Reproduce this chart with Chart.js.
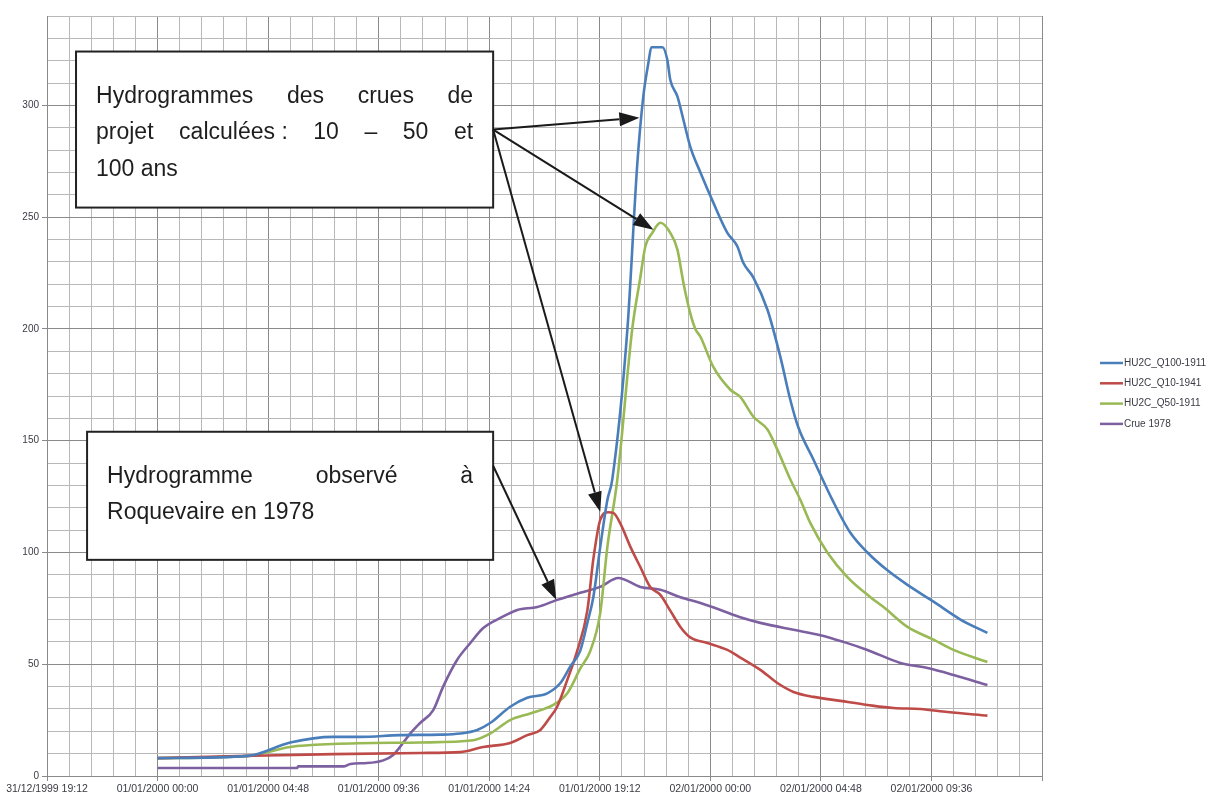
<!DOCTYPE html>
<html lang="fr">
<head>
  <meta charset="UTF-8">
  <title>Hydrogrammes Roquevaire</title>
  <script src="https://cdn.jsdelivr.net/npm/chart.js"></script>
  <style>
    body {
      margin: 0;
      background: #fff;
    }
    canvas { display: block; }
  </style>
</head>
<body>
  <canvas id="hydroChart" width="1210" height="798"></canvas>

  <script>
    // x = hours since 31/12/1999 19:12
    const xTickLabels = ['31/12/1999 19:12', '01/01/2000 00:00', '01/01/2000 04:48', '01/01/2000 09:36',
      '01/01/2000 14:24', '01/01/2000 19:12', '02/01/2000 00:00', '02/01/2000 04:48', '02/01/2000 09:36'];

    const seriesNames = ['HU2C_Q100-1911', 'HU2C_Q10-1941', 'HU2C_Q50-1911', 'Crue 1978'];

    const q100Hours = [4.8, 8.73, 10.56, 12.42, 13.6, 15.33, 17.07, 17.94, 18.68, 19.24, 20.11, 20.85, 21.72, 22.29,
      22.72, 23.15, 23.46, 23.72, 24.02, 24.33, 24.54, 25.2, 25.63, 25.89, 26.11, 26.24, 26.72, 26.93, 27.06, 27.37,
      27.63, 27.93, 28.37, 28.93, 29.54, 29.97, 30.23, 30.67, 31.28, 31.84, 32.28, 32.62, 33.28, 34.1, 34.88, 35.62,
      36.49, 37.36, 38.49, 39.66, 40.83];
    const q100Values = [8, 9, 15, 17.5, 17.5, 18.3, 18.5, 19, 20.6, 23.7, 31, 35, 37, 41.6,
      49, 56, 68.5, 80, 102.5, 123.5, 132.5, 200, 274, 304, 319, 326, 326, 320.5, 311.5, 304,
      293.6, 281.5, 270, 256.5, 243, 237, 229.6, 223, 208.6, 187.5, 168, 156, 141.5, 123.5, 108.8, 100,
      92, 85.5, 78, 70, 64];

    const q10Hours = [4.8, 8.73, 12.42, 16.2, 17.94, 18.94, 20.11, 20.85, 21.42, 21.85, 22.15, 22.59, 23.02, 23.46,
      23.72, 24.02, 24.37, 24.59, 24.89, 25.33, 25.76, 26.19, 26.63, 27.06, 27.5, 27.93, 28.67, 29.54, 30.1, 30.97,
      31.71, 32.41, 33.28, 34.45, 35.62, 36.75, 37.92, 39.1, 40.83];
    const q10Values = [8, 9, 9.8, 10.3, 10.7, 13, 14.8, 18.3, 20.6, 26.4, 31, 43, 56, 74,
      97, 114.6, 118, 117.7, 113, 102.5, 93.5, 84.6, 81, 74, 66.7, 62, 59.5, 56.4, 53, 47.5,
      41.6, 37.6, 35.4, 33.6, 31.8, 30.4, 30, 28.6, 27];

    const q50Hours = [4.8, 8.73, 10.56, 12.42, 16.2, 18.51, 19.24, 20.11, 20.98, 21.98, 22.59, 23.15, 23.59, 24.02,
      24.33, 24.76, 25.41, 25.76, 25.98, 26.28, 26.63, 27.06, 27.37, 27.63, 27.93, 28.15, 28.37, 28.93, 29.67, 30.1,
      30.67, 31.28, 31.71, 32.28, 32.71, 33.15, 33.88, 34.75, 35.75, 36.32, 37.36, 38.49, 39.36, 40.83];
    const q50Values = [8, 9, 13, 14.3, 15, 16, 19, 25, 28, 31.8, 37, 48, 56, 73,
      102.5, 132.5, 200, 223, 237, 243, 247.5, 243, 235.5, 220.7, 207, 200, 196.5, 183, 172.8, 169.6,
      160.7, 155, 146, 132.5, 123.5, 113, 100, 89, 80, 75.6, 66.7, 61, 56.4, 51];

    const crue1978Hours = [4.8, 10.86, 10.9, 12.9, 13.17, 13.9, 14.6, 15.03, 15.77, 16.2, 16.77, 17.2, 17.81, 18.38,
      18.94, 19.68, 20.42, 21.29, 22.15, 22.85, 23.15, 24.02, 24.8, 25.76, 26.63, 27.5, 28.37, 29.24, 30.1, 30.97,
      32.41, 33.58, 34.58, 35.62, 37.05, 38.23, 39.36, 40.83];
    const crue1978Values = [3.6, 3.6, 4.3, 4.3, 5.4, 5.8, 7, 9.4, 19, 23.7, 29.5, 40, 52, 59.5,
      66.2, 70.7, 74.3, 75.6, 78.8, 81, 82, 84.6, 88.6, 84.6, 83.3, 80, 77.4, 74.3, 71, 68.5,
      65.4, 63, 60, 56.4, 50.6, 48.3, 45.2, 40.7];

    const seriesColors = ['#4a7ebb', '#be4b48', '#98b954', '#7d60a0'];

    const FONT = "'Liberation Sans', Arial, sans-serif";
    const MAJOR = '#8a8a8a';
    const MINOR = '#b8b8b8';
    const TXT = '#3a3a44';

    function pts(hours, values) {
      return hours.map((h, i) => ({ x: h, y: values[i] }));
    }

    // text boxes + arrows, anchored in data units (hours, m3/s)
    const notes = [
      {
        box: [1.26, 324.1, 19.37, 254.3],
        lines: [
          { words: ['Hydrogrammes', 'des', 'crues', 'de'], justify: true },
          { words: ['projet', 'calculées :', '10', '–', '50', 'et'], justify: true },
          { words: ['100 ans'], justify: false }
        ],
        arrows: [
          [19.37, 289.2, 25.72, 294.5],
          [19.37, 289.2, 26.33, 244.4],
          [19.37, 289.2, 24.02, 118.2]
        ]
      },
      {
        box: [1.74, 154, 19.37, 96.7],
        lines: [
          { words: ['Hydrogramme', 'observé', 'à'], justify: true },
          { words: ['Roquevaire en 1978'], justify: false }
        ],
        arrows: [
          [19.37, 138.8, 22.11, 78.8]
        ]
      }
    ];

    const notesPlugin = {
      id: 'notes',
      afterDatasetsDraw(chart) {
        const { ctx, scales: { x, y } } = chart;
        ctx.save();
        notes.forEach(n => {
          const x0 = x.getPixelForValue(n.box[0]), y0 = y.getPixelForValue(n.box[1]);
          const x1 = x.getPixelForValue(n.box[2]), y1 = y.getPixelForValue(n.box[3]);
          ctx.fillStyle = '#fff';
          ctx.fillRect(x0, y0, x1 - x0, y1 - y0);
          ctx.strokeStyle = '#222';
          ctx.lineWidth = 2;
          ctx.strokeRect(x0, y0, x1 - x0, y1 - y0);

          ctx.fillStyle = '#1e1e1e';
          ctx.font = '23px ' + FONT;
          ctx.textBaseline = 'alphabetic';
          ctx.textAlign = 'left';
          const left = x0 + 20, right = x1 - 20;
          n.lines.forEach((ln, i) => {
            const by = y0 + 51 + i * 36.5;
            if (ln.justify && ln.words.length > 1) {
              const total = ln.words.reduce((s, w) => s + ctx.measureText(w).width, 0);
              const gap = (right - left - total) / (ln.words.length - 1);
              let cx = left;
              ln.words.forEach(w => {
                ctx.fillText(w, cx, by);
                cx += ctx.measureText(w).width + gap;
              });
            } else {
              ctx.fillText(ln.words.join(' '), left, by);
            }
          });

          n.arrows.forEach(a => {
            const sx = x.getPixelForValue(a[0]), sy = y.getPixelForValue(a[1]);
            const tx = x.getPixelForValue(a[2]), ty = y.getPixelForValue(a[3]);
            const ang = Math.atan2(ty - sy, tx - sx);
            const head = 20, half = 7;
            const bx = tx - head * Math.cos(ang), byy = ty - head * Math.sin(ang);
            ctx.strokeStyle = '#1a1a1a';
            ctx.lineWidth = 2;
            ctx.beginPath();
            ctx.moveTo(sx, sy);
            ctx.lineTo(bx, byy);
            ctx.stroke();
            ctx.fillStyle = '#1a1a1a';
            ctx.beginPath();
            ctx.moveTo(tx, ty);
            ctx.lineTo(bx + half * Math.sin(ang), byy - half * Math.cos(ang));
            ctx.lineTo(bx - half * Math.sin(ang), byy + half * Math.cos(ang));
            ctx.closePath();
            ctx.fill();
          });
        });
        ctx.restore();
      }
    };

    // small legend on the right, like the Excel one
    const sideLegend = {
      id: 'sideLegend',
      afterDraw(chart) {
        const ctx = chart.ctx;
        ctx.save();
        ctx.font = '10px ' + FONT;
        ctx.textBaseline = 'middle';
        chart.data.datasets.forEach((ds, i) => {
          const ly = 363 + i * 20.3;
          ctx.strokeStyle = ds.borderColor;
          ctx.lineWidth = 2.5;
          ctx.beginPath();
          ctx.moveTo(1100, ly);
          ctx.lineTo(1123, ly);
          ctx.stroke();
          ctx.fillStyle = TXT;
          ctx.fillText(ds.label, 1124, ly);
        });
        ctx.restore();
      }
    };

    const allSeries = [
      pts(q100Hours, q100Values),
      pts(q10Hours, q10Values),
      pts(q50Hours, q50Values),
      pts(crue1978Hours, crue1978Values)
    ];

    const ctx = document.getElementById('hydroChart').getContext('2d');
    new Chart(ctx, {
      type: 'line',
      data: {
        datasets: allSeries.map((d, i) => ({
          label: seriesNames[i],
          data: d,
          borderColor: seriesColors[i],
          backgroundColor: seriesColors[i],
          borderWidth: 2.6,
          pointRadius: 0,
          cubicInterpolationMode: 'monotone',
          fill: false
        }))
      },
      options: {
        responsive: false,
        devicePixelRatio: 1,
        animation: false,
        layout: { padding: { top: 16, right: 168, left: 0, bottom: 0 } },
        plugins: {
          legend: { display: false },
          tooltip: { enabled: false }
        },
        scales: {
          x: {
            type: 'linear',
            min: 0,
            max: 43.2,
            afterFit: s => { s.height = 22; },
            ticks: {
              stepSize: 0.96,
              autoSkip: false,
              maxRotation: 0,
              minRotation: 0,
              padding: 2,
              color: TXT,
              font: { family: FONT, size: 10.5 },
              callback: (v, i) => (i % 5 === 0 && xTickLabels[i / 5]) ? xTickLabels[i / 5] : ''
            },
            grid: {
              color: c => c.index % 5 === 0 ? MAJOR : MINOR,
              tickColor: c => c.index % 5 === 0 ? MAJOR : 'rgba(0,0,0,0)',
              tickLength: 5,
              lineWidth: 1
            },
            border: { color: MAJOR }
          },
          y: {
            min: 0,
            max: 340,
            afterFit: s => { s.width = 47; },
            ticks: {
              stepSize: 10,
              autoSkip: false,
              padding: 3,
              color: TXT,
              font: { family: FONT, size: 10 },
              callback: v => v % 50 === 0 ? v : ''
            },
            grid: {
              color: c => c.tick && c.tick.value % 50 === 0 ? MAJOR : MINOR,
              tickColor: c => c.tick && c.tick.value % 50 === 0 ? MAJOR : 'rgba(0,0,0,0)',
              tickLength: 5,
              lineWidth: 1
            },
            border: { color: MAJOR }
          }
        }
      },
      plugins: [notesPlugin, sideLegend]
    });
  </script>
</body>
</html>
